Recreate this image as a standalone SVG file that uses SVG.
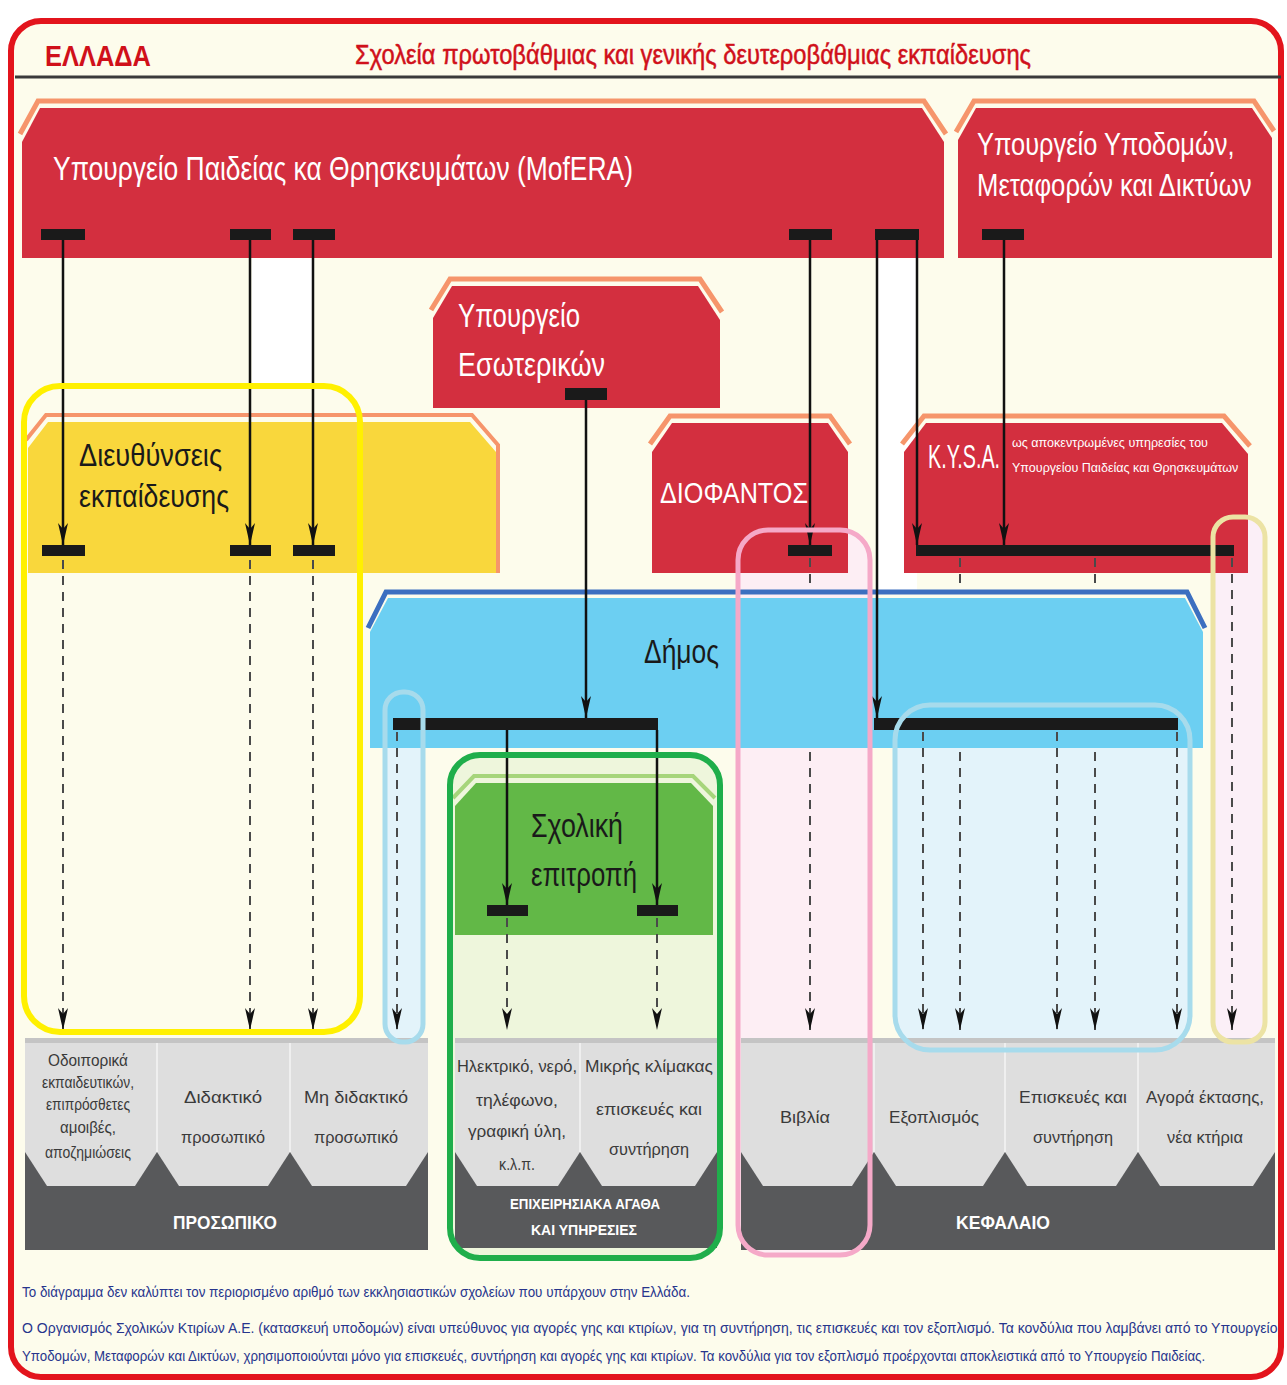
<svg xmlns="http://www.w3.org/2000/svg" width="1287" height="1385" viewBox="0 0 1287 1385">
<defs>
<style>
.f{font-family:"Liberation Sans",Arial,sans-serif}
.wt{fill:#ffffff}
.bk{fill:#1a1a1a}
.red{fill:#d32f3f}
.org{fill:none;stroke:#f6956b;stroke-width:5}
.cell{fill:#dedede}
.base{fill:#58595b}
.strip{fill:#c4c4c4}
.sep{stroke:#f4f4f4;stroke-width:1.5}
.ct{fill:#3a3a3a;font-size:17px;text-anchor:middle}
.bt{fill:#ffffff;font-weight:bold;text-anchor:middle}
.sl{stroke:#111;stroke-width:2.5;fill:none}
.dl{stroke:#4a4a4a;stroke-width:2;stroke-dasharray:9 7;fill:none}
.bar{fill:#1a1a1a}
.fn{fill:#27358c;font-size:14.5px}
</style>
<marker id="ah" markerWidth="24" markerHeight="10" refX="22" refY="5" orient="auto" markerUnits="userSpaceOnUse"><path d="M0,0 L22,5 L0,10 L6,5 Z" fill="#111"/></marker>
</defs>
<rect width="1287" height="1385" fill="#ffffff"/>
<rect x="11" y="21" width="1270" height="1356" rx="30" fill="#fdfcec" stroke="#e3141c" stroke-width="6"/>
<g id="header">
<text class="f" x="45" y="66" font-size="30" font-weight="bold" fill="#d0101a" textLength="106" lengthAdjust="spacingAndGlyphs">ΕΛΛΑΔΑ</text>
<text class="f" x="355" y="64" font-size="27" fill="#d0101a" stroke="#d0101a" stroke-width="0.5" textLength="676" lengthAdjust="spacingAndGlyphs">Σχολεία πρωτοβάθμιας και γενικής δευτεροβάθμιας εκπαίδευσης</text>
<line x1="15" y1="77" x2="1281" y2="77" stroke="#3a3a3a" stroke-width="3"/>
</g>
<g id="backgrounds">
<rect x="252" y="258" width="61" height="128" fill="#ffffff"/>
<rect x="877" y="258" width="40" height="332" fill="#ffffff"/>
<rect x="738" y="530" width="132" height="725" rx="30" fill="#fdeef4"/>
<rect x="1213" y="517" width="52" height="525" rx="20" fill="#fbeff7"/>
<rect x="895" y="705" width="295" height="345" rx="35" fill="#e3f3fa"/>
<rect x="385" y="692" width="38" height="350" rx="18" fill="#e3f3fa"/>
<rect x="450" y="755" width="270" height="503" rx="30" fill="#eef6dc"/>
</g>
<g id="ministry-education">
<polyline class="org" points="20,134 38,101 924,101 946,134"/>
<polygon class="red" points="22,142 40,108 922,108 944,142 944,258 22,258"/>
<text class="f wt" x="53" y="180" font-size="33" textLength="580" lengthAdjust="spacingAndGlyphs">Υπουργείο Παιδείας κα Θρησκευμάτων (MofERA)</text>
</g>
<g id="ministry-infrastructure">
<polyline class="org" points="956,132 974,101 1254,101 1274,131"/>
<polygon class="red" points="958,140 976,108 1252,108 1272,138 1272,258 958,258"/>
<text class="f wt" transform="translate(977,155) scale(0.85,1)" font-size="31" textLength="303" lengthAdjust="spacingAndGlyphs">Υπουργείο Υποδομών,</text>
<text class="f wt" transform="translate(977,196) scale(0.85,1)" font-size="31" textLength="323" lengthAdjust="spacingAndGlyphs">Μεταφορών και Δικτύων</text>
</g>
<g id="ministry-interior">
<polyline class="org" points="431,310 450,279 700,279 722,312"/>
<polygon class="red" points="433,318 452,286 698,286 720,320 720,408 433,408"/>
<text class="f wt" x="458" y="327" font-size="33" textLength="122" lengthAdjust="spacingAndGlyphs">Υπουργείο</text>
<text class="f wt" x="458" y="376" font-size="33" textLength="147" lengthAdjust="spacingAndGlyphs">Εσωτερικών</text>
</g>
<g id="directorates">
<polyline class="org" points="26,440 46,415 472,415 498,445 498,573" style="stroke-width:4"/>
<polygon fill="#f9d73c" points="28,448 48,422 470,422 496,452 496,573 28,573"/>
<text class="f bk" x="79" y="466" font-size="32" textLength="143" lengthAdjust="spacingAndGlyphs">Διευθύνσεις</text>
<text class="f bk" x="79" y="507" font-size="32" textLength="150" lengthAdjust="spacingAndGlyphs">εκπαίδευσης</text>
</g>
<g id="diofantos">
<polyline class="org" points="650,444 670,416 830,416 850,444"/>
<polygon class="red" points="652,452 672,423 828,423 848,452 848,573 652,573"/>
<text class="f wt" x="660" y="503" font-size="30" textLength="148" lengthAdjust="spacingAndGlyphs">ΔΙΟΦΑΝΤΟΣ</text>
</g>
<g id="kysa">
<polyline class="org" points="902,444 924,416 1224,416 1250,446"/>
<polygon class="red" points="904,452 926,423 1222,423 1248,454 1248,573 904,573"/>
<text class="f wt" transform="translate(928,468) scale(0.55,1)" font-size="34" textLength="131" lengthAdjust="spacingAndGlyphs">K.Y.S.A.</text>
<text class="f wt" transform="translate(1012,447) scale(0.8,1)" font-size="13" textLength="245" lengthAdjust="spacingAndGlyphs">ως αποκεντρωμένες υπηρεσίες του</text>
<text class="f wt" transform="translate(1012,472) scale(0.8,1)" font-size="13" textLength="283" lengthAdjust="spacingAndGlyphs">Υπουργείου Παιδείας και Θρησκευμάτων</text>
</g>
<g id="dimos">
<polygon fill="#6ccff2" points="370,632 388,598 1185,598 1203,632 1203,748 370,748"/>
<polyline points="368,628 386,592 1187,592 1205,628" fill="none" stroke="#3c6fc0" stroke-width="5"/>
<text class="f bk" x="644" y="663" font-size="34" textLength="75" lengthAdjust="spacingAndGlyphs">Δήμος</text>
</g>
<g id="school-committee">
<polyline points="453,798 474,776 693,776 715,798" fill="none" stroke="#a6d57b" stroke-width="4"/>
<polygon fill="#62b847" points="455,806 476,783 691,783 713,806 713,935 455,935"/>
<text class="f bk" x="531" y="837" font-size="33" textLength="92" lengthAdjust="spacingAndGlyphs">Σχολική</text>
<text class="f bk" x="531" y="886" font-size="33" textLength="106" lengthAdjust="spacingAndGlyphs">επιτροπή</text>
</g>
<g id="personnel">
<rect class="base" x="25" y="1038" width="403" height="212"/>
<rect class="strip" x="25" y="1038" width="403" height="5"/>
<polygon class="cell" points="25,1043 157,1043 157,1152 135,1186 47,1186 25,1152"/>
<polygon class="cell" points="157,1043 290,1043 290,1152 268,1186 179,1186 157,1152"/>
<polygon class="cell" points="290,1043 428,1043 428,1152 406,1186 312,1186 290,1152"/>
<line class="sep" x1="157" y1="1043" x2="157" y2="1152"/>
<line class="sep" x1="290" y1="1043" x2="290" y2="1152"/>
<text class="f ct" x="88" y="1066" textLength="80" lengthAdjust="spacingAndGlyphs">Οδοιπορικά</text>
<text class="f ct" x="88" y="1088" textLength="92" lengthAdjust="spacingAndGlyphs">εκπαιδευτικών,</text>
<text class="f ct" x="88" y="1110" textLength="84" lengthAdjust="spacingAndGlyphs">επιπρόσθετες</text>
<text class="f ct" x="88" y="1133" textLength="56" lengthAdjust="spacingAndGlyphs">αμοιβές,</text>
<text class="f ct" x="88" y="1158" textLength="86" lengthAdjust="spacingAndGlyphs">αποζημιώσεις</text>
<text class="f ct" x="223" y="1103" textLength="78" lengthAdjust="spacingAndGlyphs">Διδακτικό</text>
<text class="f ct" x="223" y="1143" textLength="84" lengthAdjust="spacingAndGlyphs">προσωπικό</text>
<text class="f ct" x="356" y="1103" textLength="104" lengthAdjust="spacingAndGlyphs">Μη διδακτικό</text>
<text class="f ct" x="356" y="1143" textLength="84" lengthAdjust="spacingAndGlyphs">προσωπικό</text>
<text class="f bt" x="225" y="1229" font-size="18" textLength="104" lengthAdjust="spacingAndGlyphs">ΠΡΟΣΩΠΙΚΟ</text>
</g>
<g id="operational">
<rect class="base" x="455" y="1038" width="262" height="210"/>
<rect class="strip" x="455" y="1038" width="262" height="5"/>
<polygon class="cell" points="455,1043 580,1043 580,1152 558,1186 477,1186 455,1152"/>
<polygon class="cell" points="580,1043 717,1043 717,1152 695,1186 602,1186 580,1152"/>
<line class="sep" x1="580" y1="1043" x2="580" y2="1152"/>
<text class="f ct" x="517" y="1072" textLength="120" lengthAdjust="spacingAndGlyphs">Ηλεκτρικό, νερό,</text>
<text class="f ct" x="517" y="1106" textLength="82" lengthAdjust="spacingAndGlyphs">τηλέφωνο,</text>
<text class="f ct" x="517" y="1137" textLength="98" lengthAdjust="spacingAndGlyphs">γραφική ύλη,</text>
<text class="f ct" x="517" y="1170" textLength="36" lengthAdjust="spacingAndGlyphs">κ.λ.π.</text>
<text class="f ct" x="649" y="1072" textLength="128" lengthAdjust="spacingAndGlyphs">Μικρής κλίμακας</text>
<text class="f ct" x="649" y="1115" textLength="106" lengthAdjust="spacingAndGlyphs">επισκευές και</text>
<text class="f ct" x="649" y="1155" textLength="80" lengthAdjust="spacingAndGlyphs">συντήρηση</text>
<text class="f bt" x="585" y="1209" font-size="15" textLength="150" lengthAdjust="spacingAndGlyphs">ΕΠΙΧΕΙΡΗΣΙΑΚΑ ΑΓΑΘΑ</text>
<text class="f bt" x="584" y="1235" font-size="15" textLength="106" lengthAdjust="spacingAndGlyphs">ΚΑΙ ΥΠΗΡΕΣΙΕΣ</text>
</g>
<g id="capital">
<rect class="base" x="741" y="1038" width="534" height="212"/>
<rect class="strip" x="741" y="1038" width="534" height="5"/>
<polygon class="cell" points="741,1043 874,1043 874,1152 852,1186 763,1186 741,1152"/>
<polygon class="cell" points="874,1043 1005,1043 1005,1152 983,1186 896,1186 874,1152"/>
<polygon class="cell" points="1005,1043 1138,1043 1138,1152 1116,1186 1027,1186 1005,1152"/>
<polygon class="cell" points="1138,1043 1275,1043 1275,1152 1253,1186 1160,1186 1138,1152"/>
<line class="sep" x1="874" y1="1043" x2="874" y2="1152"/>
<line class="sep" x1="1005" y1="1043" x2="1005" y2="1152"/>
<line class="sep" x1="1138" y1="1043" x2="1138" y2="1152"/>
<text class="f ct" x="805" y="1123" textLength="50" lengthAdjust="spacingAndGlyphs">Βιβλία</text>
<text class="f ct" x="934" y="1123" textLength="90" lengthAdjust="spacingAndGlyphs">Εξοπλισμός</text>
<text class="f ct" x="1073" y="1103" textLength="108" lengthAdjust="spacingAndGlyphs">Επισκευές και</text>
<text class="f ct" x="1073" y="1143" textLength="80" lengthAdjust="spacingAndGlyphs">συντήρηση</text>
<text class="f ct" x="1205" y="1103" textLength="118" lengthAdjust="spacingAndGlyphs">Αγορά έκτασης,</text>
<text class="f ct" x="1205" y="1143" textLength="76" lengthAdjust="spacingAndGlyphs">νέα κτήρια</text>
<text class="f bt" x="1003" y="1229" font-size="18" textLength="94" lengthAdjust="spacingAndGlyphs">ΚΕΦΑΛΑΙΟ</text>
</g>
<g id="connectors">
<rect class="bar" x="41" y="229" width="44" height="11"/>
<rect class="bar" x="230" y="229" width="41" height="11"/>
<rect class="bar" x="293" y="229" width="42" height="11"/>
<rect class="bar" x="789" y="229" width="43" height="11"/>
<rect class="bar" x="875" y="229" width="44" height="11"/>
<rect class="bar" x="982" y="229" width="42" height="11"/>
<rect class="bar" x="565" y="388" width="42" height="12"/>
<rect class="bar" x="42" y="545" width="43" height="11"/>
<rect class="bar" x="230" y="545" width="41" height="11"/>
<rect class="bar" x="293" y="545" width="42" height="11"/>
<rect class="bar" x="788" y="545" width="44" height="11"/>
<rect class="bar" x="916" y="545" width="318" height="11"/>
<rect class="bar" x="393" y="718" width="265" height="12"/>
<rect class="bar" x="874" y="718" width="304" height="12"/>
<rect class="bar" x="487" y="905" width="41" height="11"/>
<rect class="bar" x="637" y="905" width="41" height="11"/>
<line class="sl" x1="63" y1="240" x2="63" y2="545" marker-end="url(#ah)"/>
<line class="sl" x1="250" y1="240" x2="250" y2="545" marker-end="url(#ah)"/>
<line class="sl" x1="313" y1="240" x2="313" y2="545" marker-end="url(#ah)"/>
<line class="sl" x1="810" y1="240" x2="810" y2="545" marker-end="url(#ah)"/>
<line class="sl" x1="877" y1="240" x2="877" y2="718" marker-end="url(#ah)"/>
<line class="sl" x1="917" y1="240" x2="917" y2="545" marker-end="url(#ah)"/>
<line class="sl" x1="1004" y1="240" x2="1004" y2="545" marker-end="url(#ah)"/>
<line class="sl" x1="586" y1="400" x2="586" y2="718" marker-end="url(#ah)"/>
<line class="sl" x1="507" y1="730" x2="507" y2="905" marker-end="url(#ah)"/>
<line class="sl" x1="657" y1="730" x2="657" y2="905" marker-end="url(#ah)"/>
<line class="dl" x1="63" y1="560" x2="63" y2="1030" marker-end="url(#ah)"/>
<line class="dl" x1="250" y1="560" x2="250" y2="1030" marker-end="url(#ah)"/>
<line class="dl" x1="313" y1="560" x2="313" y2="1030" marker-end="url(#ah)"/>
<line class="dl" x1="810" y1="558" x2="810" y2="590"/>
<line class="dl" x1="810" y1="752" x2="810" y2="1030" marker-end="url(#ah)"/>
<line class="dl" x1="960" y1="558" x2="960" y2="590"/>
<line class="dl" x1="960" y1="752" x2="960" y2="1030" marker-end="url(#ah)"/>
<line class="dl" x1="1095" y1="558" x2="1095" y2="590"/>
<line class="dl" x1="1095" y1="752" x2="1095" y2="1030" marker-end="url(#ah)"/>
<line class="dl" x1="1232" y1="558" x2="1232" y2="1030" marker-end="url(#ah)"/>
<line class="dl" x1="397" y1="732" x2="397" y2="1030" marker-end="url(#ah)"/>
<line class="dl" x1="507" y1="918" x2="507" y2="1030" marker-end="url(#ah)"/>
<line class="dl" x1="657" y1="918" x2="657" y2="1030" marker-end="url(#ah)"/>
<line class="dl" x1="923" y1="732" x2="923" y2="1030" marker-end="url(#ah)"/>
<line class="dl" x1="1057" y1="732" x2="1057" y2="1030" marker-end="url(#ah)"/>
<line class="dl" x1="1177" y1="732" x2="1177" y2="1030" marker-end="url(#ah)"/>
</g>
<g id="groupings">
<rect x="24" y="386" width="336" height="646" rx="36" fill="none" stroke="#fff000" stroke-width="6"/>
<rect x="738" y="530" width="132" height="725" rx="30" fill="none" stroke="#f5a9c8" stroke-width="5"/>
<rect x="1213" y="517" width="52" height="525" rx="20" fill="none" stroke="#ece3a4" stroke-width="5"/>
<rect x="895" y="705" width="295" height="345" rx="35" fill="none" stroke="#a7dbec" stroke-width="5"/>
<rect x="385" y="692" width="38" height="350" rx="18" fill="none" stroke="#a7dbec" stroke-width="5"/>
<rect x="450" y="755" width="270" height="503" rx="30" fill="none" stroke="#1fae4b" stroke-width="6"/>
</g>
<g id="footnotes">
<text class="f fn" x="22" y="1297" textLength="668" lengthAdjust="spacingAndGlyphs">Το διάγραμμα δεν καλύπτει τον περιορισμένο αριθμό των εκκλησιαστικών σχολείων που υπάρχουν στην Ελλάδα.</text>
<text class="f fn" transform="translate(22,1333) scale(0.85,1)" textLength="1477" lengthAdjust="spacingAndGlyphs">Ο Οργανισμός Σχολικών Κτιρίων Α.Ε. (κατασκευή υποδομών) είναι υπεύθυνος για αγορές γης και κτιρίων, για τη συντήρηση, τις επισκευές και τον εξοπλισμό. Τα κονδύλια που λαμβάνει από το Υπουργείο</text>
<text class="f fn" transform="translate(22,1361) scale(0.85,1)" textLength="1392" lengthAdjust="spacingAndGlyphs">Υποδομών, Μεταφορών και Δικτύων, χρησιμοποιούνται μόνο για επισκευές, συντήρηση και αγορές γης και κτιρίων. Τα κονδύλια για τον εξοπλισμό προέρχονται αποκλειστικά από το Υπουργείο Παιδείας.</text>
</g>
</svg>
